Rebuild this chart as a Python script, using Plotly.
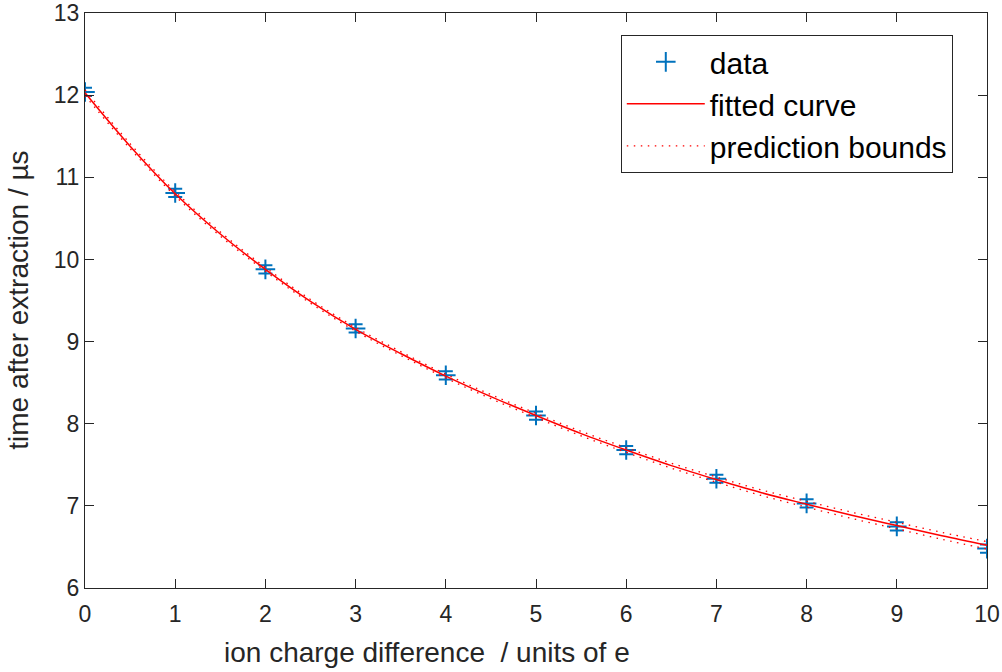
import plotly.graph_objects as go

# ---- data ----
charge = [0, 1, 2, 3, 4, 5, 6, 7, 8, 9, 10]
time_us = [12.04, 10.81, 9.88, 9.16, 8.59, 8.10, 7.68, 7.33, 7.03, 6.75, 6.48]
time_err = [0.05, 0.05, 0.05, 0.05, 0.05, 0.05, 0.05, 0.05, 0.05, 0.05, 0.05]

fit_x = [0, 0.5, 1, 1.5, 2, 2.5, 3, 3.5, 4, 4.5, 5,
         5.5, 6, 6.5, 7, 7.5, 8, 8.5, 9, 9.5, 10]
fit_y = [12.03, 11.38, 10.80, 10.31, 9.88, 9.49, 9.15, 8.855, 8.58, 8.33, 8.10,
         7.88, 7.68, 7.49, 7.32, 7.16, 7.02, 6.885, 6.76, 6.635, 6.52]
bound_hw = [0.035, 0.03, 0.027, 0.025, 0.024, 0.023, 0.023, 0.023, 0.024, 0.025, 0.026,
            0.027, 0.029, 0.030, 0.032, 0.034, 0.036, 0.038, 0.040, 0.042, 0.045]

x_ticks = [0, 1, 2, 3, 4, 5, 6, 7, 8, 9, 10]
y_ticks = [6, 7, 8, 9, 10, 11, 12, 13]
y_tick_text = ["6", "7", "8", "9", "10", "11", "12", "13"]

upper = [f + h for f, h in zip(fit_y, bound_hw)]
lower = [f - h for f, h in zip(fit_y, bound_hw)]

BLUE = "#0072BD"
RED = "#FF0000"
AX = "#262626"
FONT = "Liberation Sans, Arial, Helvetica, sans-serif"
DOT = "1.5px,5.5px"

fig = go.Figure()
fig.add_trace(go.Scatter(
    x=charge, y=time_us, mode="markers", name="data", legendgroup="a",
    marker=dict(symbol="cross-thin", size=14, line=dict(color=BLUE, width=2), color=BLUE),
    error_y=dict(type="data", array=time_err, visible=True, color=BLUE, thickness=2, width=7),
))
fig.add_trace(go.Scatter(
    x=fit_x, y=fit_y, mode="lines", name="fitted curve", legendgroup="b",
    line=dict(color=RED, width=1.5, shape="spline"),
))
fig.add_trace(go.Scatter(
    x=fit_x, y=upper, mode="lines", name="prediction bounds", legendgroup="c",
    line=dict(color=RED, width=1.3, dash=DOT, shape="spline"),
))
fig.add_trace(go.Scatter(
    x=fit_x, y=lower, mode="lines", name="prediction bounds", legendgroup="c",
    showlegend=False,
    line=dict(color=RED, width=1.3, dash=DOT, shape="spline"),
))

axis_common = dict(
    showline=True, linecolor=AX, linewidth=1, mirror="allticks",
    ticks="inside", ticklen=9, tickwidth=1, tickcolor=AX,
    showgrid=False, zeroline=False, ticklabeloverflow="allow", automargin=False,
    tickfont=dict(family=FONT, size=23, color=AX),
)

fig.update_layout(
    width=1002, height=672,
    margin=dict(l=85, r=15, t=13, b=84),
    paper_bgcolor="white", plot_bgcolor="white",
    font=dict(family=FONT, color=AX),
    xaxis=dict(range=[0, 10], tickmode="array", tickvals=x_ticks,
               ticklabelstandoff=5, **axis_common),
    yaxis=dict(range=[6, 13.001], tickmode="array", tickvals=y_ticks,
               ticktext=y_tick_text, **axis_common),
    showlegend=True,
    legend=dict(
        x=0.594, y=0.962, xanchor="left", yanchor="top",
        bgcolor="white", bordercolor=AX, borderwidth=1,
        font=dict(family=FONT, size=30, color="black"),
        itemwidth=78, tracegroupgap=0,
    ),
    annotations=[
        dict(text="ion charge difference  / units of e", xref="paper", yref="paper",
             x=(222 - 85) / 902, y=-0.112, xanchor="left", yanchor="middle",
             showarrow=False, font=dict(family=FONT, size=28, color=AX)),
        dict(text="time after extraction / µs", xref="paper", yref="paper",
             x=-0.074, y=0.5, xanchor="center", yanchor="middle", textangle=-90,
             showarrow=False, font=dict(family=FONT, size=28, color=AX)),
    ],
)

fig.write_html("out.html")
